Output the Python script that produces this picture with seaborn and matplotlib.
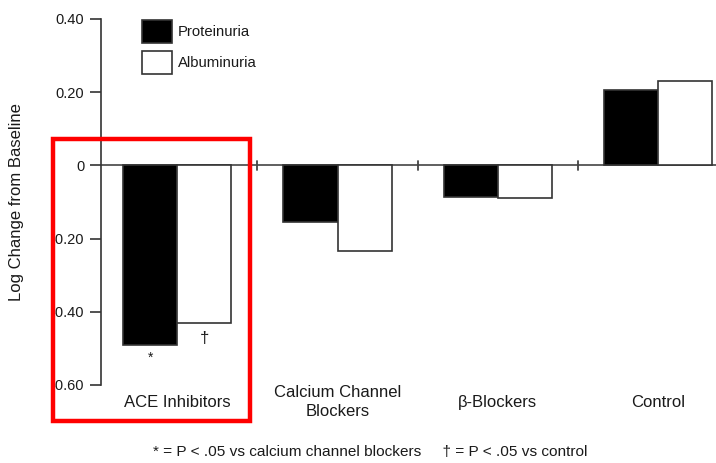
import matplotlib
matplotlib.use("Agg")
import matplotlib.pyplot as plt
import matplotlib.patches as mpatches
import seaborn as sns
import pandas as pd

# Data
categories = ["ACE Inhibitors", "Calcium Channel\nBlockers", "\u03b2-Blockers", "Control"]
proteinuria = [-0.49, -0.155, -0.085, 0.205]
albuminuria = [-0.43, -0.235, -0.088, 0.23]
series_names = ["Proteinuria", "Albuminuria"]
y_ticks = [0.40, 0.20, 0.0, -0.20, -0.40, -0.60]
y_tick_labels = ["0.40", "0.20", "0", "-0.20", "-0.40", "-0.60"]
footnote = "* = P < .05 vs calcium channel blockers     \u2020 = P < .05 vs control"

df = pd.DataFrame({
    "group": categories * 2,
    "measure": [series_names[0]] * 4 + [series_names[1]] * 4,
    "value": proteinuria + albuminuria,
})

sns.set_theme(style="white")
plt.rcParams["font.family"] = ["Liberation Sans", "DejaVu Sans"]
ink = "#1a1a1a"

fig = plt.figure(figsize=(7.16, 4.63), dpi=100)
ax = fig.add_axes([101 / 716, 1 - 385 / 463, 1 - 101 / 716, (385 - 19) / 463])

sns.barplot(data=df, x="group", y="value", hue="measure", order=categories,
            hue_order=series_names, palette=["black", "white"], width=0.675,
            edgecolor="#333333", linewidth=1.2, legend=False, ax=ax, zorder=3)

ax.set_ylim(-0.60, 0.40)
ax.set_xlim(-0.475, 3.36)

# Axes styling
for s in ["top", "right", "bottom"]:
    ax.spines[s].set_visible(False)
ax.spines["left"].set_color("#333333")
ax.spines["left"].set_linewidth(1.2)
ax.set_yticks(y_ticks)
ax.set_yticklabels(y_tick_labels)
ax.tick_params(axis="y", length=8, width=1.2, color="#333333", labelsize=10.5,
               labelcolor=ink, pad=4, left=True)
ax.set_xticks(range(len(categories)))
ax.set_xticklabels(categories, fontsize=12, color=ink, va="center", linespacing=1.35)
ax.tick_params(axis="x", length=0, pad=12.5)
ax.set_xlabel("")
ax.set_ylabel("Log Change from Baseline", fontsize=12, color=ink, labelpad=19)

# Baseline with separator ticks between groups
ax.axhline(0, color="#444444", lw=1.2, zorder=2)
for i in range(len(categories) - 1):
    ax.plot([i + 0.5, i + 0.5], [-0.012, 0.012], color="#444444", lw=1.3, zorder=2)

# Significance markers
bar_w = 0.675 / 2
ax.annotate("*", (0 - bar_w / 2, proteinuria[0]), xytext=(0, -4), textcoords="offset points",
            ha="center", va="top", fontsize=10, color=ink)
ax.annotate("\u2020", (0 + bar_w / 2, albuminuria[0]), xytext=(0, -6), textcoords="offset points",
            ha="center", va="top", fontsize=12, color=ink)

# Legend
handles = [mpatches.Patch(facecolor="black", edgecolor="#333333", lw=1.2),
           mpatches.Patch(facecolor="white", edgecolor="#333333", lw=1.2)]
leg = ax.legend(handles, series_names, loc="upper left",
                bbox_to_anchor=((142 - 101) / 615, 1 - 1 / 366),
                frameon=False, handlelength=2.0, handleheight=2.0, handletextpad=0.4,
                labelspacing=0.55, fontsize=10.7, borderpad=0, borderaxespad=0)
for t in leg.get_texts():
    t.set_color(ink)

# Highlight box around the ACE inhibitor group
fig.patches.append(mpatches.Rectangle((53 / 716, 1 - 421 / 463), 197 / 716, 282 / 463,
                                      transform=fig.transFigure, fill=False,
                                      edgecolor="#ff0000", lw=3.2, zorder=10))

fig.text(370 / 716, 1 - 452 / 463, footnote, ha="center", va="center", fontsize=11.1, color=ink)

fig.savefig("out.png", dpi=100, facecolor="white")
